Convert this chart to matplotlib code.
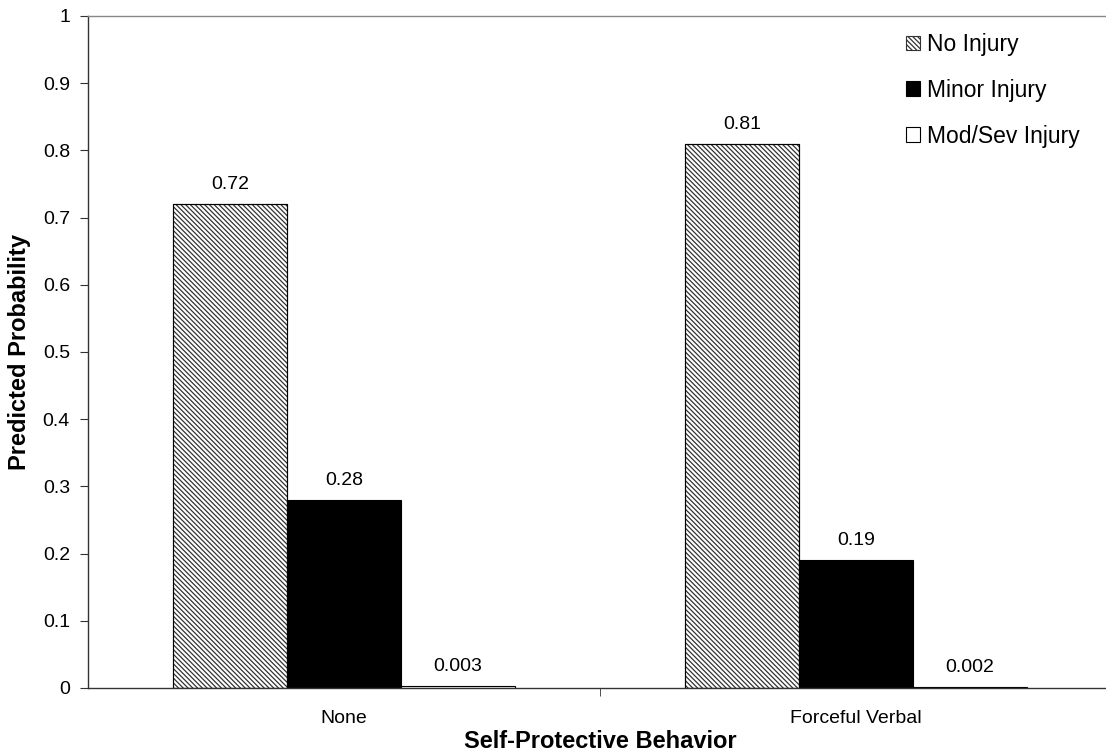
import matplotlib
matplotlib.use("Agg")
import matplotlib.pyplot as plt
import numpy as np

categories = ["None", "Forceful Verbal"]
series_names = ["No Injury", "Minor Injury", "Mod/Sev Injury"]
no_injury = [0.72, 0.81]
minor_injury = [0.28, 0.19]
modsev_injury = [0.003, 0.002]
label_text = [["0.72", "0.81"], ["0.28", "0.19"], ["0.003", "0.002"]]
yticks = [0, 0.1, 0.2, 0.3, 0.4, 0.5, 0.6, 0.7, 0.8, 0.9, 1]
ytick_labels = ["0", "0.1", "0.2", "0.3", "0.4", "0.5", "0.6", "0.7", "0.8", "0.9", "1"]

plt.rcParams['font.family'] = ['Liberation Sans', 'DejaVu Sans']
plt.rcParams['hatch.linewidth'] = 0.9
plt.rcParams['hatch.color'] = '#333333'

fig = plt.figure(figsize=(11.06, 7.53), dpi=100)
W, H = 1106, 753
left, right, top, bottom = 88, 1112, 16, 688
ax = fig.add_axes([left / W, 1 - bottom / H, (right - left) / W, (bottom - top) / H])

x = np.arange(len(categories))
bw = 1 / 4.5
series = [no_injury, minor_injury, modsev_injury]
styles = [dict(facecolor='white', hatch='\\' * 7, edgecolor='#333333'),
          dict(facecolor='black', edgecolor='black'),
          dict(facecolor='white', edgecolor='black')]
handles = []
for i, (vals, st) in enumerate(zip(series, styles)):
    pos = x + (i - 1) * bw
    bars = ax.bar(pos, vals, width=bw, linewidth=0.8, label=series_names[i], **st)
    if i == 0:
        for b in bars:
            ax.bar(b.get_x() + bw / 2, b.get_height(), width=bw, facecolor='none',
                   edgecolor='black', linewidth=0.8)
    handles.append(bars)
    for p, v, t in zip(pos, vals, label_text[i]):
        ax.annotate(t, (p, v), xytext=(0, 8), textcoords='offset points',
                    ha='center', va='bottom', fontsize=14)

ax.set_xlim(-0.5, 1.5)
ax.set_ylim(0, 1)
ax.set_yticks(yticks)
ax.set_yticklabels(ytick_labels, fontsize=14)
ax.set_xticks(x)
ax.set_xticklabels(categories, fontsize=14)
ax.tick_params(axis='x', length=0, pad=16)
ax.set_xticks([0.5], minor=True)
ax.tick_params(axis='x', which='minor', length=6, direction='out', color='#333333')
ax.tick_params(axis='y', length=6, direction='out', color='#333333', pad=7)

ax.spines['top'].set_color('#888888')
ax.spines['right'].set_visible(False)
ax.spines['left'].set_color('#333333')
ax.spines['bottom'].set_color('#333333')
for s in ax.spines.values():
    s.set_linewidth(1.0)

ax.set_ylabel("Predicted Probability", fontsize=17, fontweight='bold')
ax.yaxis.set_label_coords(-(88 - 20) / (right - left), 0.5)
ax.yaxis.label.set_va('center')
ax.set_xlabel("Self-Protective Behavior", fontsize=17, fontweight='bold')
ax.xaxis.set_label_coords((600 - left) / (right - left), -(741 - bottom) / (bottom - top))
ax.xaxis.label.set_va('center')

leg = ax.legend(handles=handles, labels=series_names, loc='upper left',
                bbox_to_anchor=((906 - left) / (right - left), 1 - (33 - top) / (bottom - top)),
                frameon=False, fontsize=16.5, labelspacing=1.0, handlelength=0.62,
                handleheight=0.62, handletextpad=0.3, borderaxespad=0, borderpad=0)

fig.savefig("out.png", dpi=100)
